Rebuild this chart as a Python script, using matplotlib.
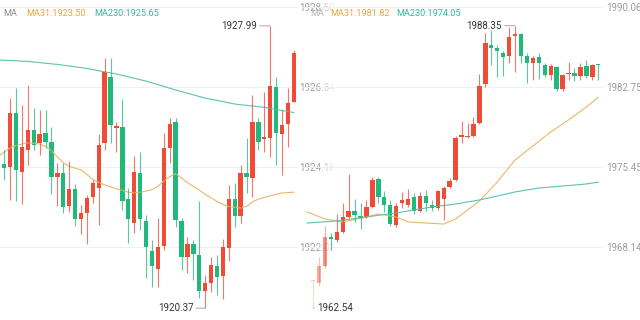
import numpy as np
import matplotlib.pyplot as plt

plt.rcParams['font.family'] = ['Roboto', 'DejaVu Sans']

# ---- left chart (candles) ----
left_open = [1926.80, 1924.26, 1924.18, 1925.64, 1924.05, 1924.64, 1925.18, 1924.83, 1925.10, 1924.86,
             1923.91, 1924.02, 1923.13, 1923.59, 1922.78, 1922.94, 1923.37, 1923.61, 1924.83, 1926.61,
             1925.23, 1925.26, 1923.32, 1922.67, 1924.02, 1922.72, 1921.91, 1921.43, 1922.05, 1924.69,
             1925.40, 1922.72, 1921.75, 1922.10, 1921.80, 1920.83, 1921.05, 1921.51, 1921.24, 1921.99,
             1923.32, 1922.86, 1924.02, 1923.88, 1925.40, 1924.94, 1924.96, 1926.34, 1925.07, 1925.34,
             1925.94]
left_high = [1927.07, 1924.64, 1926.04, 1926.31, 1925.85, 1926.39, 1925.77, 1925.72, 1925.72, 1925.26,
             1924.29, 1924.29, 1924.34, 1923.72, 1923.15, 1923.42, 1923.83, 1925.07, 1927.12, 1927.12,
             1925.40, 1926.02, 1923.61, 1924.48, 1924.59, 1922.88, 1922.21, 1922.80, 1925.10, 1925.50,
             1925.50, 1922.80, 1922.29, 1922.21, 1923.26, 1921.26, 1921.75, 1921.80, 1922.24, 1923.69,
             1923.75, 1924.23, 1924.96, 1926.12, 1925.50, 1926.21, 1927.99, 1926.61, 1925.72, 1926.31,
             1927.34]
left_low = [1922.83, 1923.83, 1923.29, 1923.26, 1923.18, 1924.23, 1924.64, 1924.50, 1924.69, 1923.45,
            1923.13, 1922.94, 1922.97, 1922.59, 1922.37, 1922.10, 1923.21, 1922.61, 1924.64, 1924.83,
            1924.59, 1923.02, 1922.13, 1922.40, 1922.48, 1921.18, 1920.94, 1920.94, 1921.94, 1924.29,
            1922.56, 1921.40, 1921.32, 1921.13, 1920.64, 1920.37, 1920.81, 1920.72, 1920.62, 1921.64,
            1922.56, 1922.67, 1923.48, 1923.37, 1924.64, 1924.59, 1924.45, 1924.23, 1923.96, 1924.72,
            1925.94]
left_close = [1923.29, 1924.15, 1925.64, 1924.10, 1924.72, 1925.18, 1924.77, 1925.07, 1924.86, 1923.91,
              1924.02, 1923.10, 1923.59, 1922.78, 1922.94, 1923.34, 1923.75, 1924.77, 1926.75, 1925.31,
              1925.29, 1923.26, 1922.78, 1924.05, 1922.78, 1922.02, 1921.51, 1922.02, 1924.69, 1925.34,
              1922.75, 1921.75, 1922.10, 1921.83, 1920.83, 1921.05, 1921.53, 1921.21, 1922.02, 1923.32,
              1922.86, 1924.02, 1923.91, 1925.40, 1924.86, 1924.99, 1926.37, 1925.10, 1925.31, 1925.91,
              1927.26]
left_ma31 = [1924.47, 1924.58, 1924.70, 1924.76, 1924.80, 1924.83, 1924.82, 1924.80, 1924.74, 1924.62,
             1924.45, 1924.30, 1924.20, 1924.15, 1924.10, 1923.98, 1923.84, 1923.76, 1923.70, 1923.64,
             1923.59, 1923.55, 1923.50, 1923.48, 1923.50, 1923.53, 1923.57, 1923.66, 1923.80, 1923.92,
             1924.00, 1923.88, 1923.76, 1923.65, 1923.56, 1923.44, 1923.35, 1923.25, 1923.17, 1923.11,
             1923.09, 1923.07, 1923.12, 1923.24, 1923.31, 1923.36, 1923.40, 1923.44, 1923.48, 1923.49,
             1923.50]
left_ma230_idx = [0, 5, 10, 15, 20, 25, 30, 35, 40, 45, 50]
left_ma230 = [1927.07, 1927.03, 1926.95, 1926.84, 1926.69, 1926.50, 1926.26, 1926.04, 1925.88, 1925.79, 1925.65]
left_ticks = [1928.50, 1926.34, 1924.18, 1922.02]

# ---- right chart ----
right_open = [1965.00, 1964.84, 1966.39, 1969.04, 1968.77, 1969.50, 1970.87, 1971.42, 1970.96, 1970.87,
              1971.79, 1974.34, 1972.70, 1971.97, 1970.14, 1972.15, 1971.97, 1972.70, 1971.42, 1972.79,
              1971.97, 1971.69, 1972.52, 1973.61, 1974.25, 1978.18, 1978.18, 1978.27, 1979.46, 1983.02,
              1986.59, 1986.31, 1985.86, 1985.58, 1987.41, 1987.59, 1985.58, 1984.94, 1985.49, 1984.76,
              1983.85, 1984.58, 1982.57, 1983.94, 1984.03, 1983.76, 1984.67, 1983.66, 1984.85]
right_high = [1965.12, 1967.22, 1970.05, 1969.41, 1971.15, 1972.15, 1974.80, 1972.52, 1972.15, 1972.43,
              1974.53, 1974.53, 1973.25, 1972.43, 1972.15, 1973.16, 1973.43, 1973.07, 1973.16, 1973.34,
              1972.43, 1973.34, 1973.70, 1974.44, 1978.27, 1979.64, 1979.46, 1980.01, 1983.94, 1987.69,
              1987.96, 1986.59, 1986.04, 1988.23, 1988.35, 1987.69, 1985.86, 1985.58, 1985.86, 1984.94,
              1984.85, 1984.67, 1983.94, 1985.03, 1984.49, 1984.94, 1985.22, 1984.85, 1984.85]
right_low = [1962.54, 1964.60, 1966.20, 1967.86, 1968.59, 1969.41, 1970.78, 1970.42, 1969.78, 1970.78,
             1971.69, 1972.15, 1971.33, 1970.05, 1969.96, 1971.69, 1971.79, 1971.15, 1971.33, 1971.42,
             1971.42, 1971.51, 1970.60, 1973.52, 1974.16, 1977.63, 1978.09, 1978.18, 1979.37, 1982.75,
             1984.76, 1983.66, 1983.76, 1984.94, 1984.12, 1984.94, 1983.12, 1983.39, 1983.48, 1983.66,
             1983.39, 1982.38, 1982.38, 1983.39, 1983.30, 1983.39, 1983.57, 1983.39, 1983.39]
right_close = [1965.05, 1966.39, 1969.04, 1968.86, 1969.50, 1970.87, 1971.42, 1971.05, 1970.78, 1971.79,
               1974.25, 1972.70, 1971.97, 1970.23, 1971.88, 1972.43, 1972.52, 1971.42, 1972.79, 1972.15,
               1971.69, 1973.25, 1973.52, 1974.16, 1978.09, 1978.36, 1978.27, 1979.37, 1982.84, 1986.77,
               1986.31, 1986.04, 1985.49, 1987.32, 1987.59, 1985.58, 1984.94, 1985.40, 1984.94, 1983.85,
               1984.67, 1982.57, 1983.85, 1984.03, 1983.76, 1984.58, 1983.76, 1984.76, 1984.76]
right_ma31_idx = [-1, 2, 5, 9, 11, 14, 16, 19, 22, 24, 26, 28, 31, 34, 37, 40, 43, 46, 48]
right_ma31 = [1971.33, 1970.69, 1970.42, 1970.87, 1971.15, 1970.87, 1970.42, 1970.32, 1970.23, 1970.69,
              1971.51, 1972.33, 1974.07, 1976.08, 1977.36, 1978.64, 1979.74, 1980.92, 1981.82]
right_ma230_idx = [-1, 4, 9, 15, 20, 24, 28, 31, 34, 38, 42, 46, 48]
right_ma230 = [1970.32, 1970.51, 1970.87, 1971.33, 1971.79, 1972.06, 1972.43, 1972.79, 1973.16, 1973.52,
               1973.70, 1973.89, 1974.05]
right_ticks = [1990.06, 1982.75, 1975.45, 1968.14]

UP = '#EF4B36'
DOWN = '#1FBA7B'
MA31_C = '#EBB866'
MA230_C = '#5CC3AE'
W, H = 640, 320


def draw_candles(ax, o, h, l, c, fade=()):
    o, h, l, c = map(np.asarray, (o, h, l, c))
    y0, y1 = ax.get_ylim()
    min_h = (y1 - y0) / H * 1.3
    for i in range(len(o)):
        col = UP if c[i] >= o[i] else DOWN
        a = fade[i] if i < len(fade) else 1.0
        ax.vlines(i, l[i], h[i], color=col, lw=0.8, alpha=0.75 * a)
        ax.bar(i, max(abs(c[i] - o[i]), min_h), 0.74, bottom=min(o[i], c[i]),
               color=col, alpha=a, lw=0)


def style_axis(ax, ticks):
    ax.set_yticks(ticks)
    ax.set_yticklabels(['%.2f' % t for t in ticks])
    ax.yaxis.tick_right()
    ax.tick_params(axis='y', length=0, pad=1, labelsize=7, labelcolor='#9c9c9c')
    ax.set_xticks([])
    for s in ax.spines.values():
        s.set_visible(False)
    ax.grid(axis='y', color='#f0f0f0', lw=0.8)
    ax.set_axisbelow(True)


fig = plt.figure(figsize=(W / 100, H / 100), dpi=100)

# left chart
ax1 = fig.add_axes([0, 0, 298 / W, 1])
ax1.set_zorder(1)
ax1.set_xlim(0.30, 50.7)
ax1.set_ylim(1920.049, 1928.689)
style_axis(ax1, left_ticks)
ax1.plot(range(len(left_ma31)), left_ma31, color=MA31_C, lw=0.8)
ax1.plot(left_ma230_idx, left_ma230, color=MA230_C, lw=0.8)
draw_candles(ax1, left_open, left_high, left_low, left_close)
ax1.annotate('%.2f' % max(left_high), xy=(int(np.argmax(left_high)), max(left_high)),
             xytext=(-9.5, 0), textcoords='offset points', ha='right', va='center',
             fontsize=7, color='#333333',
             arrowprops=dict(arrowstyle='-', color='#999999', lw=0.6, shrinkA=0, shrinkB=0))
ax1.annotate('%.2f' % min(left_low), xy=(int(np.argmin(left_low)), min(left_low)),
             xytext=(-8.5, 0), textcoords='offset points', ha='right', va='center',
             fontsize=7, color='#333333',
             arrowprops=dict(arrowstyle='-', color='#999999', lw=0.6, shrinkA=0, shrinkB=0))

# white fade between the two charts
axf = fig.add_axes([316 / W, 0, 20 / W, 1])
axf.set_zorder(2)
grad = np.ones((1, 64, 4))
grad[0, :, 3] = np.linspace(0, 1, 64)
axf.imshow(grad, aspect='auto', extent=(0, 1, 0, 1))
axf.axis('off')

# right chart
ax2 = fig.add_axes([303 / W, 0, 300 / W, 1])
ax2.set_zorder(3)
ax2.patch.set_visible(False)
ax2.set_xlim(-1.68, 48.8)
ax2.set_ylim(1961.46, 1990.70)
style_axis(ax2, right_ticks)
ax2.tick_params(axis='y', pad=2)
ax2.plot(right_ma31_idx, right_ma31, color=MA31_C, lw=0.8)
ax2.plot(right_ma230_idx, right_ma230, color=MA230_C, lw=0.8)
draw_candles(ax2, right_open, right_high, right_low, right_close, fade=(0.3, 0.45, 0.6))
ax2.annotate('%.2f' % max(right_high), xy=(int(np.argmax(right_high)), max(right_high)),
             xytext=(-9.5, 0), textcoords='offset points', ha='right', va='center',
             fontsize=7, color='#333333',
             arrowprops=dict(arrowstyle='-', color='#999999', lw=0.6, shrinkA=0, shrinkB=0))
ax2.annotate('%.2f' % min(right_low), xy=(int(np.argmin(right_low)), min(right_low)),
             xytext=(3, 0), textcoords='offset points', ha='left', va='center',
             fontsize=7, color='#333333',
             arrowprops=dict(arrowstyle='-', color='#bbbbbb', lw=0.6, shrinkA=0, shrinkB=0))

# MA legends
legends = [(3, 'MA', '#8c8c8c'), (26, 'MA31:%.2f' % left_ma31[-1], '#E7A83E'),
           (94, 'MA230:%.2f' % left_ma230[-1], '#35B9A3'),
           (310, 'MA', '#b5b5b5'), (330, 'MA31:%.2f' % right_ma31[-1], '#E7A83E'),
           (396, 'MA230:%.2f' % right_ma230[-1], '#35B9A3')]
for x, txt, col in legends:
    fig.text(x / W, 1 - 13 / H, txt, fontsize=6.6, color=col, va='center', ha='left', zorder=5)

fig.savefig('out.png', dpi=100, facecolor='white')
